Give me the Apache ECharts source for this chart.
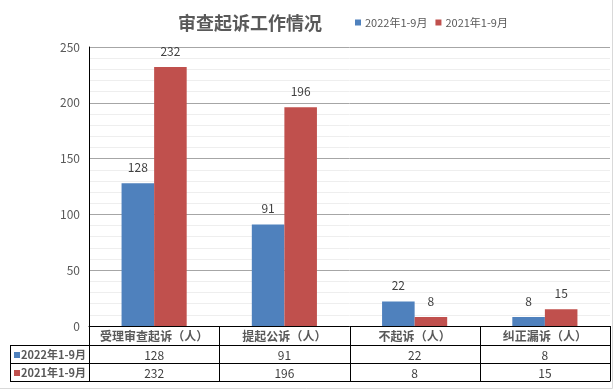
<!DOCTYPE html>
<html>
<head>
<meta charset="utf-8">
<script src="https://cdn.jsdelivr.net/npm/echarts@6/dist/echarts.min.js"></script>
<style>
html,body{margin:0;padding:0;background:#fff;}
#chart{width:615px;height:390px;}
</style>
</head>
<body>
<div id="chart"></div>
<script>
var titleText = '审查起诉工作情况';
var categories = ['受理审查起诉（人）', '提起公诉（人）', '不起诉（人）', '纠正漏诉（人）'];
var seriesNames = ['2022年1-9月', '2021年1-9月'];
var values2022 = [128, 91, 22, 8];
var values2021 = [232, 196, 8, 15];
var yTicks = [0, 50, 100, 150, 200, 250];

var colors = ['#4f81bd', '#c0504d'];
var cjk = '"Noto Sans CJK SC", "Microsoft YaHei", sans-serif';

var chart = echarts.init(document.getElementById('chart'), null, {renderer: 'canvas'});

var option = {
  animation: false,
  backgroundColor: '#ffffff',
  title: {
    text: titleText,
    left: 245, top: 9, textAlign: 'center',
    textStyle: {fontFamily: cjk, fontSize: 18, fontWeight: 'bold', color: '#595959'}
  },
  legend: {
    left: 350, top: 12,
    icon: 'rect', itemWidth: 6, itemHeight: 6, itemGap: 8,
    textStyle: {fontFamily: cjk, fontSize: 11, color: '#595959', padding: [0,0,0,-1]},
    data: seriesNames
  },
  grid: {left: 89, right: 5, top: 47, bottom: 64},
  xAxis: {
    type: 'category',
    data: categories,
    axisLine: {lineStyle: {color: '#000', width: 1}},
    axisTick: {show: false},
    axisLabel: {show: false},
    splitLine: {show: false}
  },
  yAxis: {
    type: 'value',
    min: yTicks[0], max: yTicks[yTicks.length - 1], interval: 50,
    axisLine: {show: true, lineStyle: {color: '#000', width: 1}},
    axisTick: {show: false},
    axisLabel: {color: '#595959', fontSize: 12, margin: 9, fontFamily: cjk},
    splitLine: {lineStyle: {color: '#a6a6a6', width: 1}},
    minorTick: {show: false, splitNumber: 5},
    minorSplitLine: {show: true, lineStyle: {color: '#eeeeee', width: 1}}
  },
  series: [
    {
      name: seriesNames[0], type: 'bar', data: values2022,
      itemStyle: {color: colors[0]},
      barGap: '0%', barCategoryGap: '50%',
      label: {show: true, position: 'top', distance: 10, color: '#404040', fontSize: 12, fontFamily: cjk}
    },
    {
      name: seriesNames[1], type: 'bar', data: values2021,
      itemStyle: {color: colors[1]},
      barGap: '0%', barCategoryGap: '50%',
      label: {show: true, position: 'top', distance: 10, color: '#404040', fontSize: 12, fontFamily: cjk}
    }
  ]
};
chart.setOption(option);

// Build data table below the axis from the axis geometry
(function () {
  var c0 = chart.convertToPixel({xAxisIndex: 0}, categories[0]);
  var c1 = chart.convertToPixel({xAxisIndex: 0}, categories[1]);
  var band = c1 - c0;
  var left = c0 - band / 2;
  var right = left + band * categories.length;
  var y0 = chart.convertToPixel({yAxisIndex: 0}, 0);
  var rowH = [19, 18, 18];
  var r1 = y0 + rowH[0], r2 = r1 + rowH[1], r3 = r2 + rowH[2];
  var tableLeft = 10;
  var lineStyle = {stroke: '#000', lineWidth: 1};
  var g = [];
  function hline(x1, x2, y) {
    y = Math.round(y) + 0.5;
    g.push({type: 'line', shape: {x1: x1, y1: y, x2: x2, y2: y}, style: lineStyle, silent: true});
  }
  function vline(x, yA, yB) {
    x = Math.round(x) + 0.5;
    g.push({type: 'line', shape: {x1: x, y1: yA, x2: x, y2: yB}, style: lineStyle, silent: true});
  }
  hline(tableLeft, right, r1);
  hline(tableLeft, right, r2);
  hline(tableLeft, right, r3);
  vline(tableLeft, r1, r3 + 0.5);
  for (var i = 0; i <= categories.length; i++) {
    vline(left + band * i, y0, r3 + 0.5);
  }
  var rows = [values2022, values2021];
  categories.forEach(function (cat, i) {
    var cx = left + band * (i + 0.5);
    g.push({type: 'text', x: cx, y: y0 + rowH[0] / 2 + 1, silent: true,
      style: {text: cat, align: 'center', verticalAlign: 'middle', fill: '#595959',
        font: 'bold 12px ' + cjk}});
    rows.forEach(function (vals, j) {
      var cy = (j === 0 ? r1 : r2) + rowH[j + 1] / 2 + 1;
      g.push({type: 'text', x: cx, y: cy, silent: true,
        style: {text: String(vals[i]), align: 'center', verticalAlign: 'middle', fill: '#404040',
          font: '12px ' + cjk}});
    });
  });
  seriesNames.forEach(function (name, j) {
    var cy = (j === 0 ? r1 : r2) + rowH[j + 1] / 2 + 1;
    g.push({type: 'rect', shape: {x: 14, y: Math.round(cy) - 3, width: 6, height: 6},
      style: {fill: colors[j]}, silent: true});
    g.push({type: 'text', x: 21, y: cy, silent: true,
      style: {text: name, align: 'left', verticalAlign: 'middle', fill: '#595959',
        font: 'bold 11px ' + cjk}});
  });
  // outer chart border (right and bottom)
  g.push({type: 'line', shape: {x1: 612.5, y1: 0, x2: 612.5, y2: 388.5}, style: {stroke: '#d9d9d9', lineWidth: 1}, silent: true});
  g.push({type: 'line', shape: {x1: 0, y1: 388.5, x2: 612.5, y2: 388.5}, style: {stroke: '#d9d9d9', lineWidth: 1}, silent: true});
  chart.setOption({graphic: {elements: g}});
})();
</script>
</body>
</html>
